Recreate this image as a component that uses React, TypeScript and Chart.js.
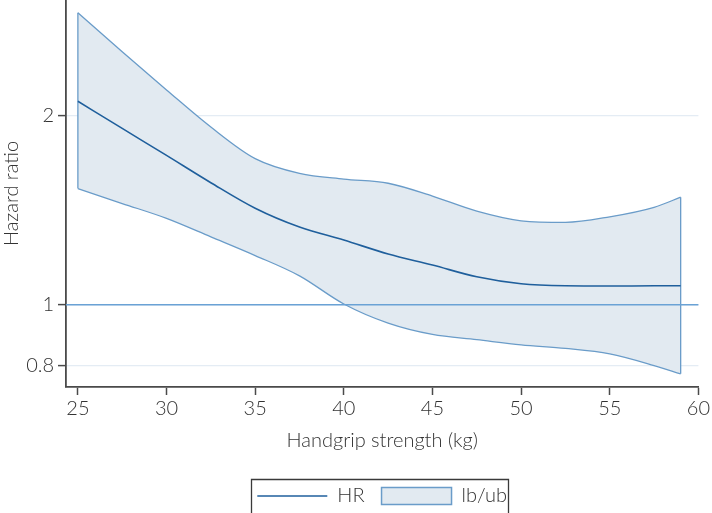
import React, { useEffect, useRef } from "react";
import { Chart, registerables } from "chart.js";

Chart.register(...registerables);

// Handgrip strength (kg)
const xValues = [25, 27.5, 30, 32.5, 35, 37.5, 40, 42.5, 45, 47.5, 50, 52.5, 55, 57.5, 59];
// Hazard ratio estimate
const hrValues = [2.11, 1.91, 1.73, 1.565, 1.425, 1.33, 1.268, 1.205, 1.157, 1.108, 1.08, 1.072, 1.071, 1.072, 1.072];
// Upper confidence bound
const upperValues = [2.92, 2.53, 2.2, 1.92, 1.71, 1.62, 1.586, 1.562, 1.49, 1.41, 1.361, 1.353, 1.381, 1.43, 1.484];
// Lower confidence bound
const lowerValues = [1.532, 1.45, 1.373, 1.283, 1.198, 1.112, 1.003, 0.935, 0.897, 0.88, 0.863, 0.852, 0.835, 0.8, 0.776];

const xTicks = [25, 30, 35, 40, 45, 50, 55, 60];
const yTicks = [0.8, 1, 2];
const yTickLabels = ["0.8", "1", "2"];
const referenceValue = 1;

const X_MIN = 24.33;
const X_MAX = 60;
const Y_MIN = 0.7395;
const Y_MAX = 3.06;

const FONT = "Lato, 'DejaVu Sans', sans-serif";
const WEIGHT = 300;
const FS = 20;
const TEXT = "#333333";
const AXIS = "#4a4a4a";
const HR_COLOR = "#1f5f9c";
const BAND_BORDER = "#6a9cc9";
const BAND_FILL = "#e2eaf1";
const REF_COLOR = "#6aa2d5";
const GRID_LIGHT = "#e4ecf4";

const refLinePlugin = {
  id: "refLine",
  afterDatasetsDraw(chart: any) {
    const { ctx, chartArea } = chart;
    const y = chart.scales.y.getPixelForValue(referenceValue);
    ctx.save();
    ctx.strokeStyle = REF_COLOR;
    ctx.lineWidth = 1.3;
    ctx.beginPath();
    ctx.moveTo(chartArea.left, y);
    ctx.lineTo(chartArea.right, y);
    ctx.stroke();
    ctx.restore();
  },
};

const legendFramePlugin = {
  id: "legendFrame",
  afterDraw(chart: any) {
    const lg = chart.legend;
    if (!lg || !lg.legendHitBoxes || !lg.legendHitBoxes.length) return;
    const hb = lg.legendHitBoxes;
    const first = hb[0];
    const last = hb[hb.length - 1];
    const left = Math.round(first.left - 6) + 0.5;
    const right = Math.round(last.left + last.width + 1) + 0.5;
    const top = Math.round(first.top - 7) + 0.5;
    const ctx = chart.ctx;
    ctx.save();
    ctx.strokeStyle = "#3a3a3a";
    ctx.lineWidth = 1.3;
    ctx.beginPath();
    ctx.moveTo(left, chart.height + 5);
    ctx.lineTo(left, top);
    ctx.lineTo(right, top);
    ctx.lineTo(right, chart.height + 5);
    ctx.stroke();
    ctx.restore();
  },
};

export default function App() {
  const canvasRef = useRef<HTMLCanvasElement | null>(null);

  useEffect(() => {
    if (!canvasRef.current) return;
    const hrData = xValues.map((x, i) => ({ x, y: hrValues[i] }));
    const upperData = xValues.map((x, i) => ({ x, y: upperValues[i] }));
    const lowerData = xValues.map((x, i) => ({ x, y: lowerValues[i] }));
    const n = xValues.length - 1;
    const leftEdge = [
      { x: xValues[0], y: upperValues[0] },
      { x: xValues[0], y: lowerValues[0] },
    ];
    const rightEdge = [
      { x: xValues[n], y: upperValues[n] },
      { x: xValues[n], y: lowerValues[n] },
    ];

    const chart = new Chart(canvasRef.current, {
      type: "line",
      data: {
        datasets: [
          {
            label: "HR",
            data: hrData,
            borderColor: HR_COLOR,
            borderWidth: 1.6,
            pointRadius: 0,
            fill: false,
            cubicInterpolationMode: "monotone",
          },
          {
            label: "ub",
            data: upperData,
            borderColor: BAND_BORDER,
            backgroundColor: BAND_FILL,
            borderWidth: 1.3,
            pointRadius: 0,
            fill: "+1",
            cubicInterpolationMode: "monotone",
          },
          {
            label: "lb",
            data: lowerData,
            borderColor: BAND_BORDER,
            borderWidth: 1.3,
            pointRadius: 0,
            fill: false,
            cubicInterpolationMode: "monotone",
          },
          {
            label: "edgeL",
            data: leftEdge,
            borderColor: BAND_BORDER,
            borderWidth: 1.3,
            pointRadius: 0,
            fill: false,
          },
          {
            label: "edgeR",
            data: rightEdge,
            borderColor: BAND_BORDER,
            borderWidth: 1.3,
            pointRadius: 0,
            fill: false,
          },
        ],
      },
      options: {
        responsive: false,
        animation: false,
        layout: { padding: { left: 0, top: 0, right: 10, bottom: 0 } },
        font: { family: FONT, weight: WEIGHT },
        scales: {
          x: {
            type: "linear",
            min: X_MIN,
            max: X_MAX,
            afterBuildTicks: (scale: any) => {
              scale.ticks = xTicks.map((v) => ({ value: v }));
              scale.min = X_MIN;
              scale.max = X_MAX;
            },
            afterFit: (scale: any) => {
              scale.height = 82;
            },
            ticks: {
              autoSkip: false,
              maxRotation: 0,
              padding: 2,
              color: TEXT,
              font: { family: FONT, size: FS, weight: WEIGHT },
              callback: (v: any) => String(v),
            },
            grid: {
              drawOnChartArea: false,
              drawTicks: true,
              tickLength: 8,
              tickColor: AXIS,
              tickWidth: 1.5,
            },
            border: { display: true, color: AXIS, width: 1.8 },
            title: {
              display: true,
              text: "Handgrip strength (kg)",
              color: TEXT,
              font: { family: FONT, size: FS, weight: WEIGHT },
              padding: { top: 0, bottom: 16 },
            },
          },
          y: {
            type: "logarithmic",
            min: Y_MIN,
            max: Y_MAX,
            afterBuildTicks: (scale: any) => {
              scale.ticks = yTicks.map((v) => ({ value: v }));
              scale.min = Y_MIN;
              scale.max = Y_MAX;
            },
            afterFit: (scale: any) => {
              scale.width = 66;
              scale.paddingTop = 0;
              scale.paddingBottom = 0;
            },
            ticks: {
              autoSkip: false,
              padding: 4,
              color: TEXT,
              font: { family: FONT, size: FS, weight: WEIGHT },
              callback: (v: any) => {
                const idx = yTicks.indexOf(Number(v));
                return idx >= 0 ? yTickLabels[idx] : "";
              },
            },
            grid: {
              drawOnChartArea: true,
              drawTicks: true,
              tickLength: 8,
              color: GRID_LIGHT,
              lineWidth: 1.2,
              tickColor: AXIS,
              tickWidth: 1.5,
            },
            border: { display: true, color: AXIS, width: 1.8 },
            title: {
              display: true,
              text: "Hazard ratio",
              color: TEXT,
              font: { family: FONT, size: FS, weight: WEIGHT },
              padding: { top: 0, bottom: 0 },
            },
          },
        },
        plugins: {
          filler: { drawTime: "beforeDatasetsDraw" },
          tooltip: { enabled: false },
          legend: {
            display: true,
            position: "bottom",
            fullSize: false,
            onClick: () => {},
            labels: {
              usePointStyle: true,
              pointStyleWidth: 70,
              boxHeight: 17,
              padding: 17,
              color: TEXT,
              font: { family: FONT, size: FS, weight: WEIGHT },
              generateLabels: () => [
                {
                  text: "HR",
                  pointStyle: "line",
                  strokeStyle: HR_COLOR,
                  fillStyle: HR_COLOR,
                  lineWidth: 1.6,
                  hidden: false,
                  datasetIndex: 0,
                  fontColor: TEXT,
                },
                {
                  text: "lb/ub",
                  pointStyle: "rect",
                  strokeStyle: BAND_BORDER,
                  fillStyle: BAND_FILL,
                  lineWidth: 1.5,
                  hidden: false,
                  datasetIndex: 1,
                  fontColor: TEXT,
                },
              ],
            },
          },
        },
      } as any,
      plugins: [refLinePlugin, legendFramePlugin],
    });
    return () => chart.destroy();
  }, []);

  return (
    <div
      style={{
        position: "absolute",
        left: 0,
        top: 0,
        width: 712,
        height: 513,
        overflow: "hidden",
        background: "#ffffff",
      }}
    >
      <canvas ref={canvasRef} width={712} height={516} style={{ display: "block" }} />
    </div>
  );
}
